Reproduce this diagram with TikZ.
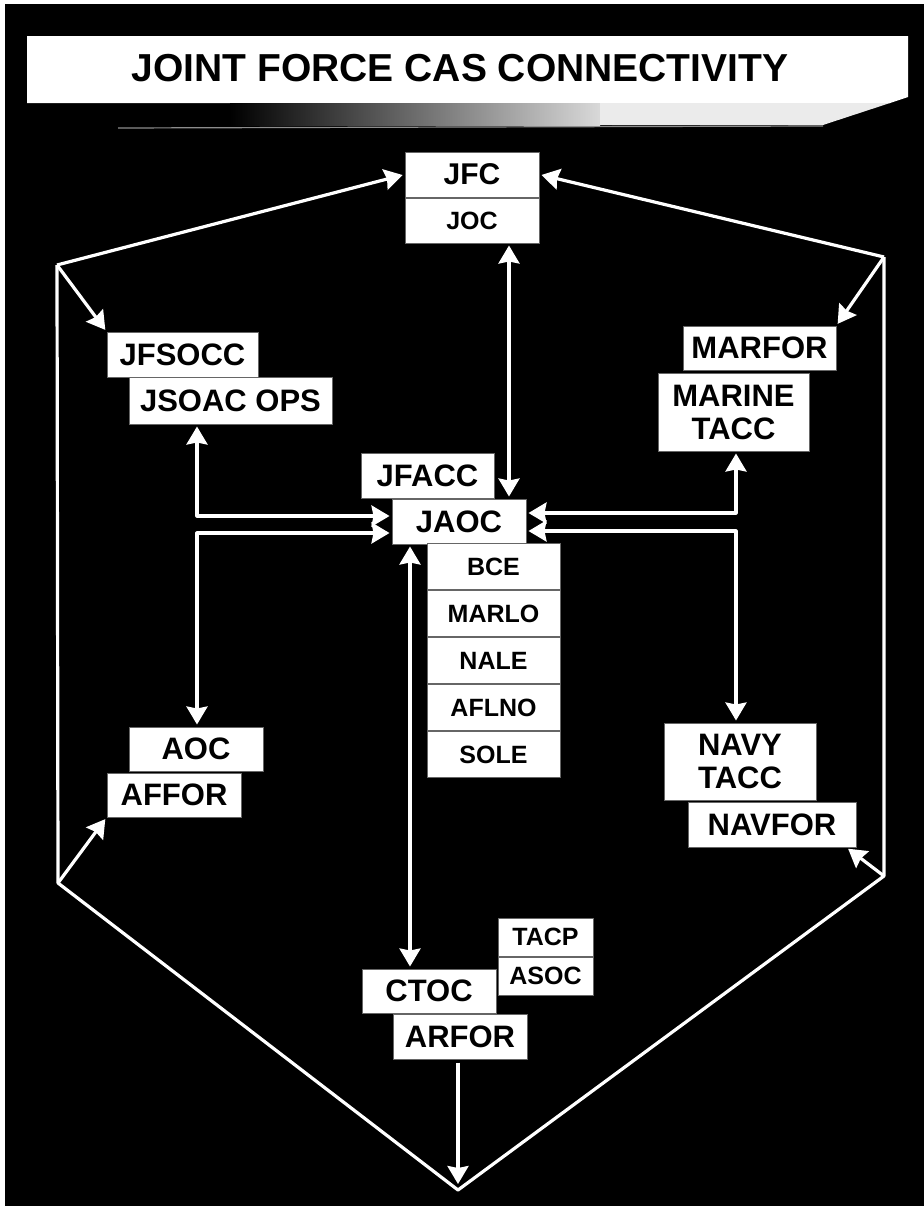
\documentclass[tikz,border=0pt]{standalone}
\usepackage{fontspec}
\setmainfont{Liberation Sans}
\usetikzlibrary{positioning, arrows.meta}
\newcommand{\bigf}{\fontsize{15.5}{16.5}\selectfont\bfseries}
\newcommand{\midf}{\fontsize{15}{16}\selectfont\bfseries}
\newcommand{\smf}{\fontsize{12.5}{13.5}\selectfont\bfseries}
\tikzstyle{unit} = [rectangle, draw=black!60, line width=0.5pt, fill=white, text=black, inner sep=0pt, align=center, minimum height=22.5pt, font=\bigf]
\tikzstyle{cell} = [unit, font=\smf]
\tikzstyle{wire} = [white, line width=1.6pt, line join=round]
\tikzstyle{link} = [wire, -{Stealth[length=9pt,width=10.5pt,inset=1pt]}, shorten >=1pt]
\tikzstyle{duplex} = [wire, {Stealth[length=9pt,width=10.5pt,inset=1pt]}-{Stealth[length=9pt,width=10.5pt,inset=1pt]}, shorten >=1pt, shorten <=1pt]

\begin{document}
\begin{tikzpicture}[x=0.5pt, y=-0.5pt]
\useasboundingbox (0,0) rectangle (924,1210);
\fill[white] (0,0) rectangle (924,1210);
\fill[black] (5,4) rectangle (924,1206);

% title banner
\fill[white] (27,36) -- (908,36) -- (908,97) -- (890,103) -- (27,103) -- cycle;
\shade[left color=black, right color=black!15] (230,103) rectangle (600,125);
\fill[black!8] (600,103) -- (890,103) -- (823,125) -- (600,125) -- cycle;
\draw[black!45, line width=0.6pt] (118,128) -- (823,126);
\node (title) at (460,68) {\fontsize{19.5}{21}\selectfont\bfseries JOINT FORCE CAS CONNECTIVITY};

% boxes
\node (jfc) [unit, font=\midf, minimum width=67pt] at (472,174.5) {JFC};
\node (joc) [cell, minimum width=67pt, below=0pt of jfc] {JOC};
\node (jfsocc) [unit, minimum width=75.5pt] at (182.5,354.5) {JFSOCC};
\node (jsoac) [unit, minimum width=101.5pt, minimum height=23.5pt] at (230.5,400.5) {JSOAC OPS};
\node (marfor) [unit, minimum width=76.5pt, minimum height=22pt] at (759.5,348) {MARFOR};
\node (mtacc) [unit, minimum width=75.5pt, minimum height=39pt] at (733.5,412) {MARINE\\TACC};
\node (jfacc) [unit, minimum width=66.5pt] at (427.5,475.5) {JFACC};
\node (jaoc) [unit, minimum width=67pt] at (459,521.5) {JAOC};
\node (bce) [cell, minimum width=66.5pt, minimum height=23pt] at (493.5,566.5) {BCE};
\node (marlo) [cell, minimum width=66.5pt, minimum height=23pt, below=0pt of bce] {MARLO};
\node (nale) [cell, minimum width=66.5pt, minimum height=23pt, below=0pt of marlo] {NALE};
\node (aflno) [cell, minimum width=66.5pt, minimum height=23pt, below=0pt of nale] {AFLNO};
\node (sole) [cell, minimum width=66.5pt, minimum height=23pt, below=0pt of aflno] {SOLE};
\node (aoc) [unit, minimum width=67pt, minimum height=22pt] at (196,749) {AOC};
\node (affor) [unit, minimum width=67pt, minimum height=22pt] at (174,795) {AFFOR};
\node (ntacc) [unit, minimum width=76pt, minimum height=38.5pt] at (740,761.5) {NAVY\\TACC};
\node (navfor) [unit, minimum width=84pt] at (772,824.5) {NAVFOR};
\node (tacp) [cell, minimum width=47.5pt, minimum height=19pt] at (545.5,937) {TACP};
\node (asoc) [cell, minimum width=47.5pt, minimum height=19pt, below=0pt of tacp] {ASOC};
\node (ctoc) [unit, minimum width=67pt, minimum height=22pt] at (429,991) {CTOC};
\node (arfor) [unit, minimum width=67pt] at (460,1036.5) {ARFOR};

% frame corners and columns
\coordinate (tl) at (57,265);
\coordinate (tr) at (884,257);
\coordinate (bl) at (58,883);
\coordinate (br) at (884,876);
\coordinate (bot) at (458,1190);
\coordinate (lcol) at (197,0);
\coordinate (rcol) at (736,0);
\coordinate (mcol) at (509,0);
\coordinate (ccol) at (410,0);

\draw [wire] (tl) -- (bl) -- (bot) -- (br) -- (tr);
\draw [link] (tl) -- (jfc.west);
\draw [link] (tr) -- (jfc.east);
\draw [link] (tl) -- (jfsocc.north west);
\draw [link] (tr) -- (marfor.north east);
\draw [link] (bl) -- (affor.south west);
\draw [link] (br) -- ([xshift=-5pt]navfor.south east);
\draw [link, shorten >=3pt, shorten <=1.5pt] (arfor.south -| bot) -- (bot);

\draw [duplex] (joc.south -| mcol) -- (jaoc.north -| mcol);
\draw [duplex] (jsoac.south -| lcol) |- ([yshift=2.75pt]jaoc.west);
\draw [duplex] ([yshift=-5.75pt]jaoc.west) -| (aoc.north -| lcol);
\draw [duplex] (mtacc.south -| rcol) |- ([yshift=4.25pt]jaoc.east);
\draw [duplex] ([yshift=-4.75pt]jaoc.east) -| (ntacc.north -| rcol);
\draw [duplex] (jaoc.south -| ccol) -- (ctoc.north -| ccol);
\end{tikzpicture}
\end{document}
